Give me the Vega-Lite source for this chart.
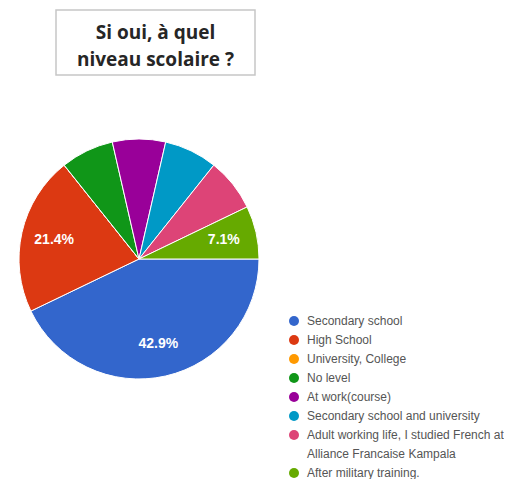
{
  "$schema": "https://vega.github.io/schema/vega-lite/v6.json",
  "padding": {"left": 17, "top": 9, "right": 0, "bottom": 0},
  "bounds": "flush",
  "spacing": 64,
  "config": {
    "view": {"stroke": null},
    "font": "Liberation Sans",
    "style": {"guide-label": {"lineHeight": 19}},
    "legend": {
      "orient": "none",
      "legendX": 232,
      "legendY": 305,
      "padding": 0,
      "symbolType": "circle",
      "symbolSize": 100,
      "symbolStrokeWidth": 0,
      "labelFontSize": 12,
      "labelColor": "#555555",
      "labelFont": "Liberation Sans",
      "labelOffset": 7,
      "labelLimit": 300,
      "rowPadding": 7
    }
  },
  "vconcat": [
    {
      "width": 199,
      "height": 65,
      "view": {"stroke": "#c6c6c6", "strokeWidth": 1.5},
      "data": {"values": [{"t": "Si oui, à quel\nniveau scolaire ?"}]},
      "mark": {"type": "text", "font": "Open Sans", "fontWeight": "bold", "fontSize": 19, "lineBreak": "\n", "lineHeight": 27, "color": "#262626", "dy": -10},
      "encoding": {"text": {"field": "t", "type": "nominal"}}
    },
    {
      "width": 166,
      "height": 240,
      "data": {"values": [
        {"cat": "Secondary school", "count": 6, "rank": 1, "label": "42.9%"},
        {"cat": "High School", "count": 3, "rank": 2, "label": "21.4%"},
        {"cat": "University, College", "count": 0, "rank": 3, "label": ""},
        {"cat": "No level", "count": 1, "rank": 4, "label": ""},
        {"cat": "At work(course)", "count": 1, "rank": 5, "label": ""},
        {"cat": "Secondary school and university", "count": 1, "rank": 6, "label": ""},
        {"cat": "Adult working life, I studied French at|Alliance Francaise Kampala", "count": 1, "rank": 7, "label": ""},
        {"cat": "After military training.", "count": 1, "rank": 8, "label": "7.1%"}
      ]},
      "encoding": {
        "theta": {"field": "count", "type": "quantitative", "stack": true, "scale": {"range": [1.5708, 7.854]}},
        "order": {"field": "rank", "type": "quantitative"}
      },
      "layer": [
        {
          "mark": {"type": "arc", "outerRadius": 120, "stroke": "white", "strokeWidth": 1},
          "encoding": {
            "color": {
              "field": "cat",
              "type": "nominal",
              "scale": {
                "domain": ["Secondary school", "High School", "University, College", "No level", "At work(course)", "Secondary school and university", "Adult working life, I studied French at|Alliance Francaise Kampala", "After military training."],
                "range": ["#3366cc", "#dc3912", "#ff9900", "#109618", "#990099", "#0099c6", "#dd4477", "#66aa00"]
              },
              "legend": {
                "title": null,
                "labelExpr": "split(datum.label, '|')",
                "encode": {"labels": {
                  "update": {"lineHeight": {"value": 19}, "dy": {"signal": "indexof(datum.label, '|') >= 0 ? 9.5 : 0"}}
                }}
              }
            }
          }
        },
        {
          "mark": {"type": "text", "radius": 87, "fontSize": 14, "fontWeight": "bold", "color": "white"},
          "encoding": {"text": {"field": "label", "type": "nominal"}}
        }
      ]
    }
  ]
}
